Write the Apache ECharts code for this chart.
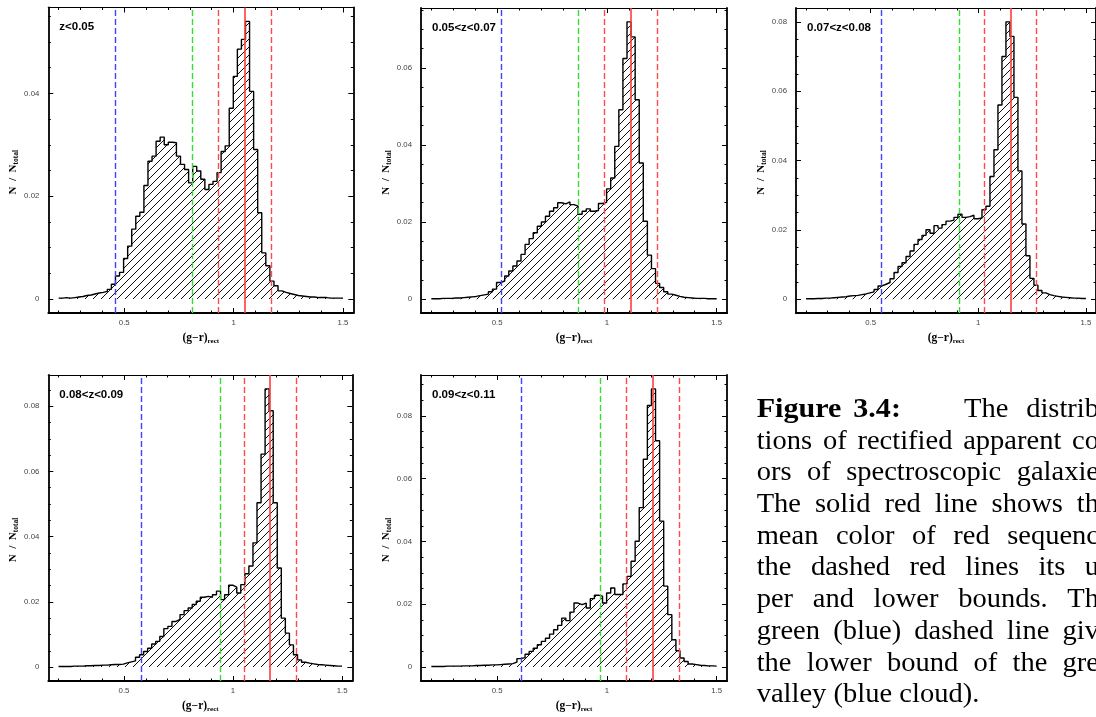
<!DOCTYPE html>
<html><head><meta charset="utf-8">
<script src="https://cdn.jsdelivr.net/npm/echarts@6/dist/echarts.min.js"></script>
<style>html,body{margin:0;padding:0;background:#fff;overflow:hidden}#c{width:1096px;height:717px}</style>
</head><body><div id="c"></div>
<script>
// ---------------- DATA ----------------
const binStart = 0.2, binEnd = 1.5, nBins = 70;
const panelLabels = ['z<0.05', '0.05<z<0.07', '0.07<z<0.08', '0.08<z<0.09', '0.09<z<0.11'];

const histZ1 = [0.0002,0.0003,0.0002,0.0003,0.0004,0.0005,0.0007,0.0008,0.0010,0.0012,
  0.0013,0.0015,0.0019,0.0029,0.0045,0.0052,0.0079,0.0103,0.0136,0.0161,
  0.0169,0.0221,0.0268,0.0278,0.0307,0.0315,0.0300,0.0305,0.0304,0.0278,
  0.0262,0.0252,0.0226,0.0258,0.0249,0.0233,0.0213,0.0223,0.0229,0.0246,
  0.0287,0.0298,0.0371,0.0433,0.0486,0.0505,0.0540,0.0404,0.0291,0.0168,
  0.0090,0.0065,0.0035,0.0026,0.0016,0.0013,0.0011,0.0009,0.0007,0.0006,
  0.0005,0.0004,0.0004,0.0003,0.0003,0.0003,0.0002,0.0002,0.0002,0.0002];
const histZ2 = [0.0001,0.0001,0.0002,0.0002,0.0002,0.0003,0.0003,0.0004,0.0005,0.0006,
  0.0007,0.0009,0.0011,0.0013,0.0019,0.0026,0.0043,0.0047,0.0060,0.0073,
  0.0086,0.0099,0.0116,0.0142,0.0157,0.0172,0.0189,0.0200,0.0215,0.0228,
  0.0237,0.0250,0.0247,0.0252,0.0245,0.0241,0.0220,0.0228,0.0234,0.0228,
  0.0230,0.0248,0.0251,0.0286,0.0314,0.0396,0.0491,0.0624,0.0719,0.0680,
  0.0517,0.0353,0.0202,0.0114,0.0079,0.0041,0.0030,0.0019,0.0013,0.0010,
  0.0007,0.0005,0.0004,0.0003,0.0002,0.0002,0.0002,0.0001,0.0001,0.0001];
const histZ3 = [0.0001,0.0001,0.0002,0.0002,0.0003,0.0003,0.0004,0.0005,0.0006,0.0007,
  0.0009,0.0010,0.0011,0.0013,0.0015,0.0018,0.0021,0.0028,0.0038,0.0043,
  0.0048,0.0059,0.0077,0.0094,0.0105,0.0123,0.0139,0.0158,0.0172,0.0184,
  0.0200,0.0190,0.0212,0.0205,0.0215,0.0225,0.0228,0.0236,0.0245,0.0236,
  0.0238,0.0242,0.0232,0.0234,0.0258,0.0268,0.0354,0.0431,0.0560,0.0700,
  0.0800,0.0758,0.0582,0.0370,0.0217,0.0125,0.0060,0.0040,0.0025,0.0018,
  0.0013,0.0010,0.0008,0.0006,0.0005,0.0004,0.0003,0.0003,0.0002,0.0002];
const histZ4 = [0.0002,0.0002,0.0002,0.0003,0.0003,0.0003,0.0004,0.0004,0.0005,0.0005,
  0.0006,0.0006,0.0007,0.0008,0.0008,0.0009,0.0013,0.0016,0.0019,0.0030,
  0.0038,0.0048,0.0058,0.0071,0.0079,0.0094,0.0118,0.0125,0.0140,0.0146,
  0.0161,0.0173,0.0181,0.0192,0.0202,0.0214,0.0217,0.0214,0.0222,0.0233,
  0.0207,0.0222,0.0251,0.0245,0.0227,0.0253,0.0286,0.0310,0.0381,0.0504,
  0.0653,0.0853,0.0786,0.0504,0.0304,0.0150,0.0104,0.0068,0.0038,0.0022,
  0.0015,0.0012,0.0010,0.0008,0.0007,0.0006,0.0005,0.0004,0.0003,0.0003];
const histZ5 = [0.0002,0.0002,0.0002,0.0003,0.0003,0.0003,0.0003,0.0004,0.0004,0.0004,
  0.0005,0.0005,0.0006,0.0006,0.0007,0.0007,0.0008,0.0009,0.0010,0.0011,
  0.0016,0.0027,0.0030,0.0041,0.0050,0.0060,0.0071,0.0082,0.0092,0.0105,
  0.0119,0.0133,0.0156,0.0148,0.0175,0.0204,0.0199,0.0204,0.0188,0.0218,
  0.0229,0.0226,0.0204,0.0236,0.0252,0.0231,0.0231,0.0265,0.0289,0.0337,
  0.0401,0.0508,0.0662,0.0833,0.0886,0.0721,0.0465,0.0258,0.0167,0.0087,
  0.0052,0.0029,0.0018,0.0010,0.0008,0.0006,0.0005,0.0004,0.0004,0.0003];
const hists = [histZ1, histZ2, histZ3, histZ4, histZ5];

const blueCut  = [0.458, 0.517, 0.545, 0.577, 0.615];
const greenCut = [0.813, 0.872, 0.908, 0.936, 0.972];
const redLow   = [0.932, 0.993, 1.027, 1.055, 1.087];
const redMean  = [1.051, 1.111, 1.146, 1.174, 1.207];
const redHigh  = [1.168, 1.229, 1.267, 1.292, 1.326];

const xMajorTicks = [0.5, 1, 1.5];
const xMinorTicks = [0.2, 0.3, 0.4, 0.6, 0.7, 0.8, 0.9, 1.1, 1.2, 1.3, 1.4];
const yMajorTicks = [0, 0.02, 0.04, 0.06, 0.08];
const yMinorStep = 0.005;
const xRange = [0.153, 1.547];

const captionWords = [
  ['Figure', '3.4:', 'The', 'distribu-'],
  ['tions', 'of', 'rectified', 'apparent', 'col-'],
  ['ors', 'of', 'spectroscopic', 'galaxies.'],
  ['The', 'solid', 'red', 'line', 'shows', 'the'],
  ['mean', 'color', 'of', 'red', 'sequence,'],
  ['the', 'dashed', 'red', 'lines', 'its', 'up-'],
  ['per', 'and', 'lower', 'bounds.', 'The'],
  ['green', '(blue)', 'dashed', 'line', 'gives'],
  ['the', 'lower', 'bound', 'of', 'the', 'green'],
  ['valley', '(blue', 'cloud).']
];
// part of each line's last word that is visible before the page edge
const captionVisibleTail = ['distrib', 'co', 'galaxie', 'th', 'sequenc', 'u', 'Th', 'giv', 'gre', null];

// ---------------- LAYOUT ----------------
const grids = [
  {left: 48.3, top: 7.5, width: 305, height: 305.5},
  {left: 421,  top: 8,   width: 306, height: 305},
  {left: 796,  top: 8,   width: 304, height: 305},
  {left: 48.3, top: 375, width: 304, height: 306},
  {left: 421,  top: 375, width: 306, height: 306}
];
const capLeft = 756.7, capEdge = 1096, capLastEnd = 979.3;
const capLine0X = [756.7, 853.3, 964];
const capFont = 26.4, capScale = 1.08, capBoldScale = 1.14;

// hatch pattern
const hc = document.createElement('canvas');
hc.width = 8; hc.height = 8;
const hctx = hc.getContext('2d');
hctx.strokeStyle = '#000'; hctx.lineWidth = 0.95;
hctx.beginPath();
hctx.moveTo(0, 8); hctx.lineTo(8, 0);
hctx.moveTo(-4, 4); hctx.lineTo(4, -4);
hctx.moveTo(4, 12); hctx.lineTo(12, 4);
hctx.stroke();

const edges = [];
for (let i = 0; i <= nBins; i++) edges.push(binStart + i * (binEnd - binStart) / nBins);

const labelStyle = {color: '#444', fontSize: 7.8, fontFamily: 'Liberation Sans'};
const serifBold = {fontFamily: 'Liberation Serif', fontWeight: 'bold', color: '#000'};

function mkAxis(kind, g, pos, min, max, ticks, len, opts) {
  opts = opts || {};
  const a = {
    type: 'value', gridIndex: g, position: pos, min: min, max: max,
    axisLine: {show: !!opts.line, onZero: false, lineStyle: {color: '#000', width: opts.lineW || 1.5}},
    axisTick: {show: true, inside: true, length: len, customValues: ticks, lineStyle: {color: '#000', width: 1}},
    axisLabel: {show: !!opts.label, customValues: ticks, margin: kind === 'x' ? 6 : 9, ...labelStyle},
    splitLine: {show: false},
    minorTick: {show: false},
    silent: true
  };
  if (opts.name) {
    a.name = opts.name;
    a.nameLocation = 'middle';
    a.nameGap = kind === 'x' ? 19 : 24;
    a.nameTextStyle = opts.nameStyle;
  }
  return a;
}

const xAxes = [], yAxes = [], series = [], graphics = [];
hists.forEach((vals, p) => {
  const M = Math.max(...vals);
  const yMin = -0.05 * M, yMax = 1.05 * M;
  const yMaj = yMajorTicks.filter(v => v <= yMax);
  const yMinr = [];
  for (let k = 1; k * yMinorStep < yMax; k++) {
    if (k % 4 !== 0) yMinr.push(+(k * yMinorStep).toFixed(4));
  }
  const xName = '{a|(g\u2212r)}{b|rect}';
  const xNameStyle = {rich: {a: {...serifBold, fontSize: 11.5}, b: {...serifBold, fontSize: 7, padding: [6, 0, 0, 0]}}};
  const yName = '{a|N  /  N}{b|total}';
  const yNameStyle = {padding: [0, 24, 0, 0], rich: {a: {...serifBold, fontSize: 11}, b: {...serifBold, fontSize: 7.5, padding: [6, 0, 0, 0]}}};

  xAxes.push(
    mkAxis('x', p, 'bottom', xRange[0], xRange[1], xMajorTicks, 5, {line: true, lineW: 1.8, label: true, name: xName, nameStyle: xNameStyle}),
    mkAxis('x', p, 'bottom', xRange[0], xRange[1], xMinorTicks, 2.5, {}),
    mkAxis('x', p, 'top', xRange[0], xRange[1], xMajorTicks, 5, {line: true, lineW: 1.2}),
    mkAxis('x', p, 'top', xRange[0], xRange[1], xMinorTicks, 2.5, {})
  );
  yAxes.push(
    mkAxis('y', p, 'left', yMin, yMax, yMaj, 5, {line: true, lineW: 1.8, label: true, name: yName, nameStyle: yNameStyle}),
    mkAxis('y', p, 'left', yMin, yMax, yMinr, 2.5, {}),
    mkAxis('y', p, 'right', yMin, yMax, yMaj, 5, {line: true, lineW: 1.8}),
    mkAxis('y', p, 'right', yMin, yMax, yMinr, 2.5, {})
  );

  const pts = vals.map((v, i) => [edges[i], v]);
  pts.push([edges[nBins], vals[nBins - 1]]);
  const dashed = (c) => ({color: c, type: [6, 3], width: 1.4});
  series.push({
    type: 'line', xAxisIndex: 4 * p, yAxisIndex: 4 * p,
    data: pts, step: 'end', symbol: 'none', showSymbol: false,
    lineStyle: {color: '#000', width: 1.4},
    areaStyle: {color: {image: hc, repeat: 'repeat'}, opacity: 1},
    clip: true, silent: true,
    markLine: {
      silent: true, symbol: ['none', 'none'], label: {show: false}, animation: false,
      data: [
        {xAxis: blueCut[p], lineStyle: dashed('#4040ff')},
        {xAxis: greenCut[p], lineStyle: dashed('#33dd33')},
        {xAxis: redLow[p], lineStyle: dashed('#ff4a4a')},
        {xAxis: redHigh[p], lineStyle: dashed('#ff4a4a')},
        {xAxis: redMean[p], lineStyle: {color: '#ff3d3d', type: 'solid', width: 1.6}}
      ]
    }
  });

  graphics.push({
    type: 'text', x: grids[p].left + 11, y: grids[p].top + 19.5, silent: true,
    style: {text: panelLabels[p], fontFamily: 'Liberation Sans', fontWeight: 'bold', fontSize: 11.5, fill: '#000', align: 'left', verticalAlign: 'middle'}
  });
});

// caption
const mctx = document.createElement('canvas').getContext('2d');
function wordW(w, bold) {
  mctx.font = (bold ? 'bold ' : '') + capFont + 'px "Liberation Serif"';
  return mctx.measureText(w).width * (bold ? capBoldScale : capScale);
}
captionWords.forEach((words, li) => {
  const n = words.length;
  const bold = words.map((w, wi) => li === 0 && wi < 2);
  const widths = words.map((w, wi) => wordW(w, bold[wi]));
  let xs = [];
  const tail = captionVisibleTail[li];
  const lastStart = tail ? capEdge - wordW(tail, false) + 3 : null;
  if (li === 0) {
    xs = capLine0X.concat([lastStart]);
  } else if (tail) {
    let sum = 0; for (let i = 0; i < n - 1; i++) sum += widths[i];
    const gap = (lastStart - capLeft - sum) / (n - 1);
    let x = capLeft;
    for (let i = 0; i < n; i++) { xs.push(i === n - 1 ? lastStart : x); x += widths[i] + gap; }
  } else {
    let sum = 0; for (let i = 0; i < n; i++) sum += widths[i];
    const gap = (capLastEnd - capLeft - sum) / (n - 1);
    let x = capLeft;
    for (let i = 0; i < n; i++) { xs.push(x); x += widths[i] + gap; }
  }
  const base = 414 + 31.7 * li;
  words.forEach((w, wi) => {
    graphics.push({
      type: 'text', x: xs[wi], y: base - 4, silent: true,
      scaleX: bold[wi] ? capBoldScale : capScale, scaleY: 1,
      style: {text: w, fontFamily: 'Liberation Serif', fontSize: capFont,
        fontWeight: bold[wi] ? 'bold' : 'normal',
        fill: '#000', align: 'left', verticalAlign: 'middle'}
    });
  });
});

const chart = echarts.init(document.getElementById('c'), null, {renderer: 'canvas'});
chart.setOption({
  animation: false,
  backgroundColor: '#fff',
  grid: grids.map(g => ({...g, containLabel: false})),
  xAxis: xAxes,
  yAxis: yAxes,
  series: series,
  graphic: graphics
});
</script>
</body></html>
